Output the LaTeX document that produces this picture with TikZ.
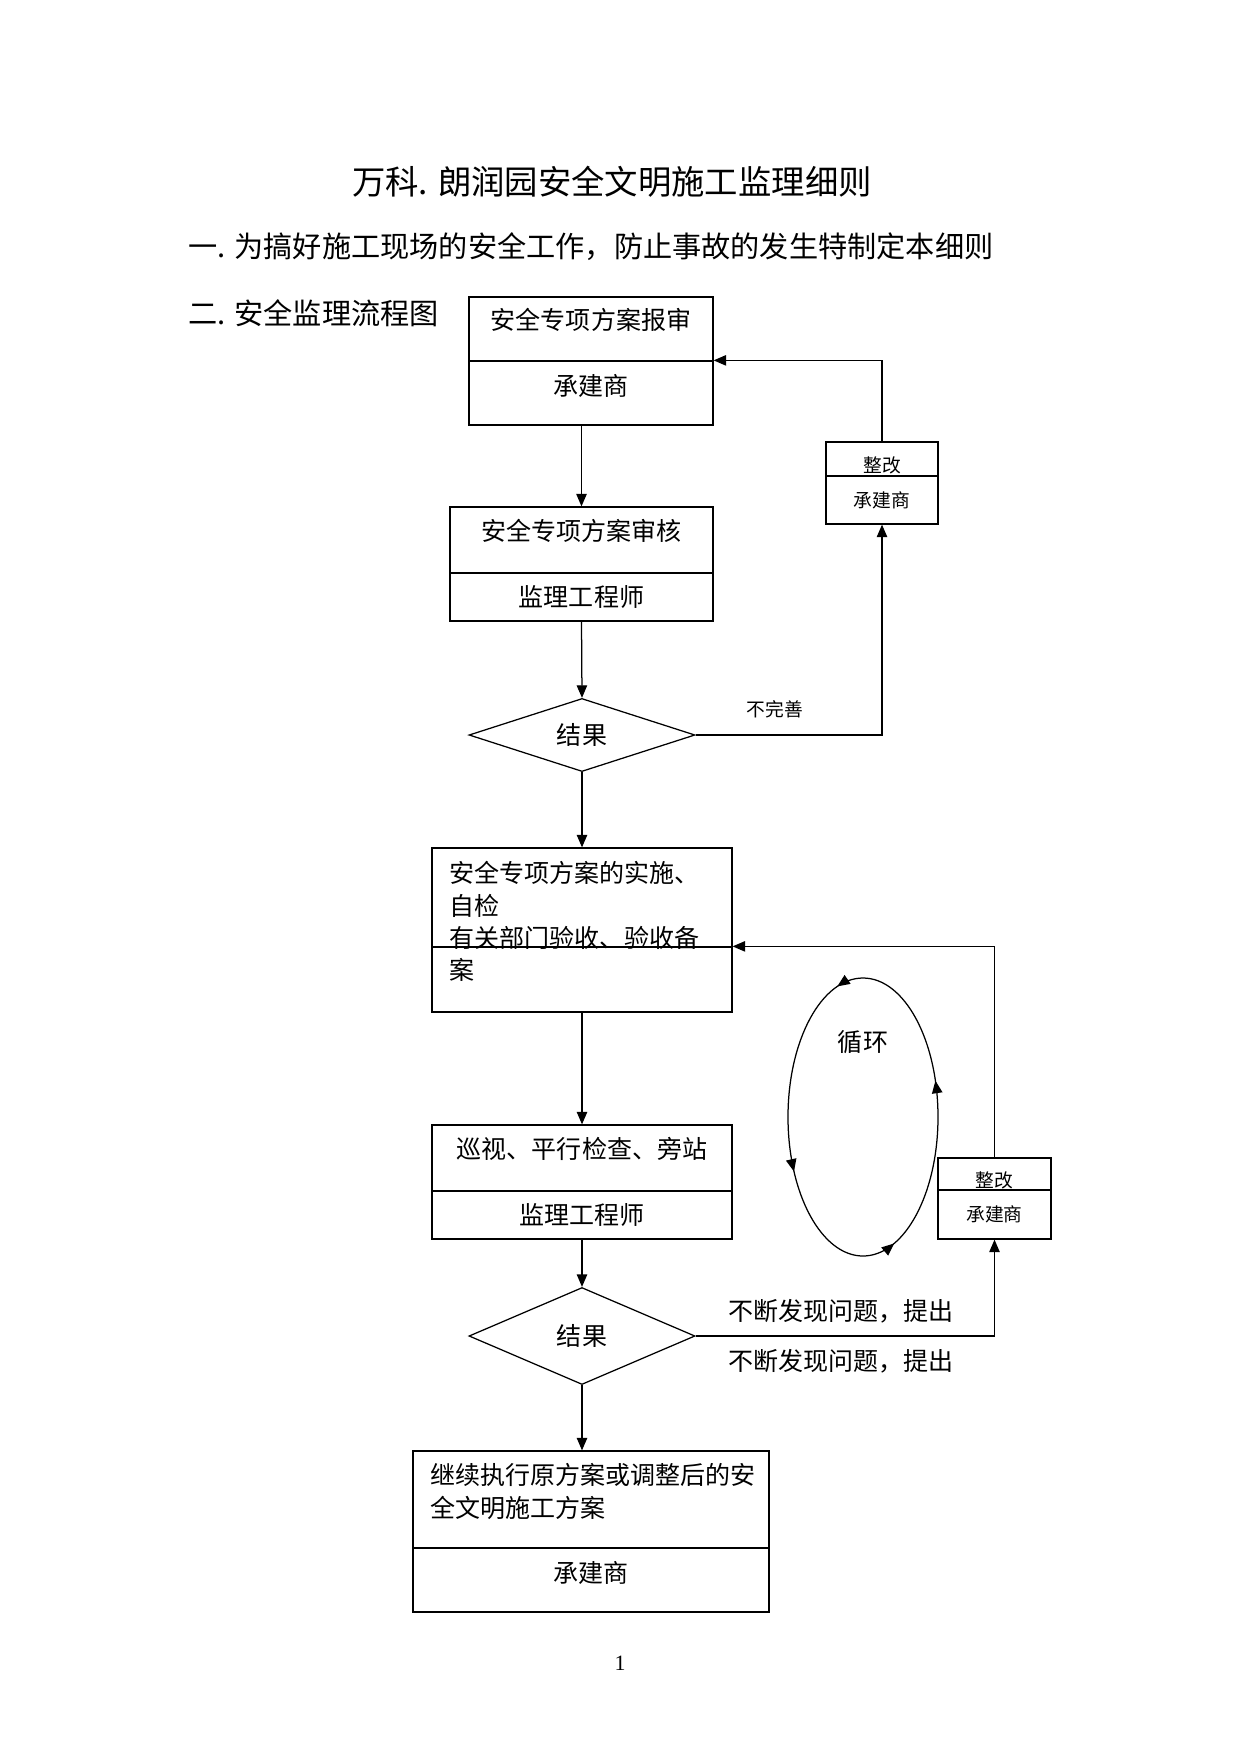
\documentclass[tikz,border=0pt]{standalone}
\usepackage{fontspec}
\setmainfont{Liberation Serif}
\newfontfamily\cjk{Noto Sans CJK SC}
\usetikzlibrary{arrows.meta, shapes.geometric, decorations.markings}
\newdimen\pxl \pxl=0.4797pt

\begin{document}
\begin{tikzpicture}[
  x=0.4797pt, y=-0.4797pt,
  line width=0.6pt,
  every node/.style={font=\cjk\fontsize{12pt}{15.5pt}\selectfont, inner sep=0pt},
  cell/.style={draw, rectangle, inner sep=0pt},
  head/.style={cell, text height=10pt, text depth=9.5pt},
  foot/.style={cell, text height=10pt, text depth=7.5pt},
  tinycell/.style={cell, font=\cjk\fontsize{9pt}{11pt}\selectfont},
  tinyhead/.style={tinycell, text height=13.6pt, text depth=1pt},
  choice/.style={draw, diamond, inner sep=0pt, minimum width=226*\pxl},
  para/.style={align=left, anchor=north west},
  lab/.style={font=\cjk\fontsize{9pt}{11pt}\selectfont},
  arrow/.style={-{Triangle[length=6pt, width=5pt]}},
  cyc/.style={postaction={decorate}, decoration={markings,
    mark=at position 0.053 with {\arrow{Triangle[length=6pt, width=5pt]}},
    mark=at position 0.29 with {\arrow{Triangle[length=6pt, width=5pt]}},
    mark=at position 0.58 with {\arrow{Triangle[length=6pt, width=5pt]}},
    mark=at position 0.80 with {\arrow{Triangle[length=6pt, width=5pt]}}}}
]

  % 页面
  \path[fill=white] (0,0) rectangle (1241,1755);

  % 标题
  \node[font=\cjk\fontsize{16pt}{18pt}\selectfont] (title) at (612,182) {万科. 朗润园安全文明施工监理细则};
  \node[anchor=west, font=\cjk\fontsize{14pt}{16pt}\selectfont] (aim) at (188,247) {一. 为搞好施工现场的安全工作，防止事故的发生特制定本细则};
  \node[anchor=west, font=\cjk\fontsize{14pt}{16pt}\selectfont] (flow) at (188,313) {二. 安全监理流程图};

  % 主列
  \node[head, minimum width=244*\pxl, minimum height=64*\pxl] (b1t) at (591,329) {安全专项方案报审};
  \node[foot, minimum width=244*\pxl, minimum height=64*\pxl] (b1b) at (591,393) {承建商};

  \node[head, minimum width=263*\pxl, minimum height=66*\pxl] (b2t) at (581.5,540) {安全专项方案审核};
  \node[cell, minimum width=263*\pxl, minimum height=48*\pxl] (b2b) at (581.5,597) {监理工程师};

  \node[choice, minimum height=65*\pxl] (d1) at (582,735) {结果};

  \node[cell, minimum width=300*\pxl, minimum height=99*\pxl] (b3t) at (582,897.5) {};
  \node[cell, minimum width=300*\pxl, minimum height=65*\pxl] (b3b) at (582,979.5) {};
  \node[para] (b3txt) at (449,861) {安全专项方案的实施、\\自检\\有关部门验收、验收备\\案};

  \node[head, minimum width=300*\pxl, minimum height=66*\pxl] (b4t) at (582,1158) {巡视、平行检查、旁站};
  \node[cell, minimum width=300*\pxl, minimum height=48*\pxl] (b4b) at (582,1215) {监理工程师};

  \node[choice, minimum height=97*\pxl] (d2) at (582,1336) {结果};

  \node[cell, minimum width=356*\pxl, minimum height=97*\pxl] (b5t) at (591,1499.5) {};
  \node[foot, minimum width=356*\pxl, minimum height=64*\pxl] (b5b) at (591,1580) {承建商};
  \node[para] (b5txt) at (430,1463) {继续执行原方案或调整后的安\\全文明施工方案};

  % 整改框
  \node[tinyhead, minimum width=112*\pxl, minimum height=34*\pxl] (z1t) at (882,459) {整改};
  \node[tinycell, minimum width=112*\pxl, minimum height=48*\pxl] (z1b) at (882,500) {承建商};

  \node[tinyhead, minimum width=113*\pxl, minimum height=32*\pxl] (z2t) at (994.5,1174) {整改};
  \node[tinycell, minimum width=113*\pxl, minimum height=49*\pxl] (z2b) at (994.5,1214.5) {承建商};

  % 标注
  \node[lab] (nok) at (775,709) {不完善};
  \node[anchor=west] (fb1) at (728,1311) {不断发现问题，提出};
  \node[anchor=west] (fb2) at (728,1361) {不断发现问题，提出};

  % 循环
  \coordinate (ring) at (863,1117);
  \node (ringtxt) at (863,1042) {循环};
  \draw[cyc] (ring) ++(75,0) arc[start angle=0, end angle=-360, x radius=75, y radius=139];

  % 箭头
  \draw[arrow] (b2t.north |- b1b.south) -- (b2t.north);
  \draw[arrow] (b2b.south) -- (d1.north);
  \draw[arrow] (d1.south) -- (b3t.north);
  \draw[arrow] (b3b.south) -- (b4t.north);
  \draw[arrow] (b4b.south) -- (d2.north);
  \draw[arrow] (d2.south) -- (d2.south |- b5t.north);

  % 返回
  \draw[arrow] (d1.east) -| (z1b.south);
  \draw[arrow] (z1t.north) |- (b1b.north east);
  \draw[arrow] (d2.east) -| (z2b.south);
  \draw[arrow] (z2t.north) |- (b3b.north east);

  % 页码
  \node[font=\rmfamily\fontsize{10.5pt}{12pt}\selectfont] (pg) at (620,1663) {1};

\end{tikzpicture}
\end{document}
